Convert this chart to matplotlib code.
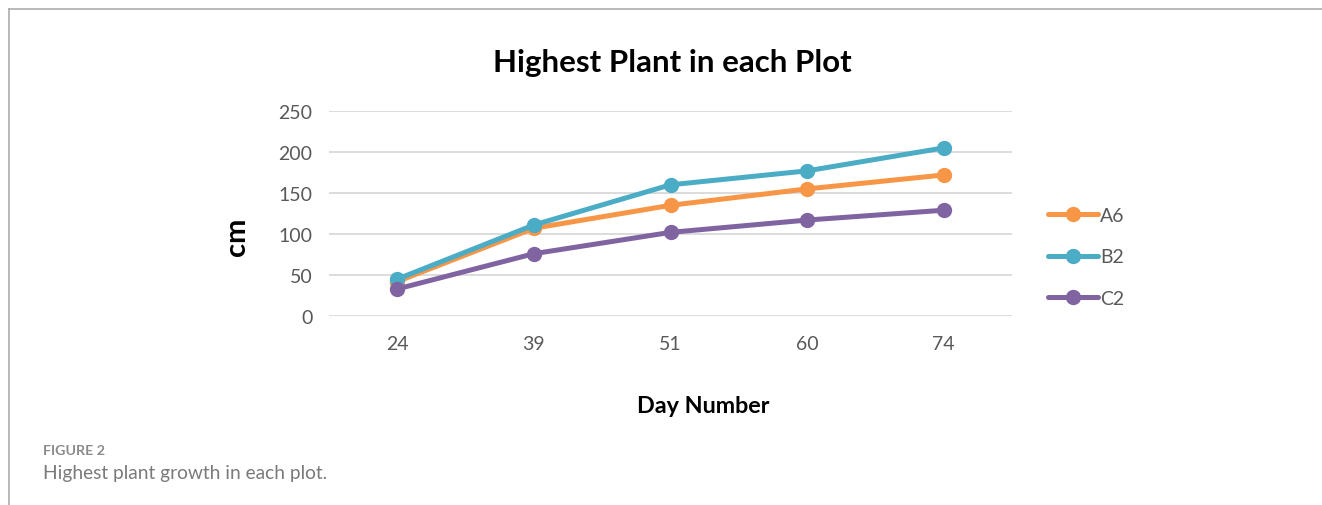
import matplotlib
matplotlib.use("Agg")
import matplotlib.pyplot as plt
from matplotlib.lines import Line2D

plt.rcParams['font.family'] = ['Lato', 'DejaVu Sans']

days = ["24", "39", "51", "60", "74"]
a6 = [42, 107, 135, 155, 172]
b2 = [45, 111, 160, 177, 205]
c2 = [33, 76, 102, 117, 129]
series = [("A6", a6, "#F79646"), ("B2", b2, "#4BACC6"), ("C2", c2, "#8064A2")]
y_ticks = [0, 50, 100, 150, 200, 250]

W, H = 1322, 506
fig = plt.figure(figsize=(W / 100, H / 100), dpi=100)

# outer frame: top and left rules
frame_color = "#ABABAB"
fig.add_artist(Line2D([9 / W, 1.0], [1 - 10 / H, 1 - 10 / H], color=frame_color, lw=1.2))
fig.add_artist(Line2D([9 / W, 9 / W], [0, 1 - 10 / H], color=frame_color, lw=1.2))

ax = fig.add_axes([329 / W, 1 - 317 / H, (1012 - 329) / W, (317 - 112) / H])
x = list(range(len(days)))
for name, vals, col in series:
    ax.plot(x, vals, color=col, lw=3.6, marker="o", markersize=10, label=name,
            solid_capstyle="round", zorder=3)

ax.set_xlim(-0.5, len(days) - 0.5)
ax.set_ylim(0, 250)
ax.set_yticks(y_ticks)
ax.set_xticks(x)
ax.set_xticklabels(days)
ax.grid(axis="y", color="#D9D9D9", lw=1.3)
ax.set_axisbelow(True)
for s in ax.spines.values():
    s.set_visible(False)
ax.tick_params(length=0, labelsize=14, labelcolor="#595959", pad=12)
ax.tick_params(axis="x", pad=14)

fig.text(672 / W, 1 - 63 / H, "Highest Plant in each Plot", ha="center", va="center",
         fontsize=22.5, fontweight="bold", color="black")
fig.text(237 / W, 1 - 237 / H, "cm", ha="center", va="center", rotation=90,
         fontsize=21, fontweight="bold", color="black")
fig.text(703 / W, 1 - 407 / H, "Day Number", ha="center", va="center",
         fontsize=16.8, fontweight="bold", color="black")

leg = ax.legend(loc="center left", bbox_to_anchor=(1030 / W, 1 - 258 / H),
                bbox_transform=fig.transFigure, frameon=False, fontsize=14,
                handlelength=2.6, handletextpad=0.1, labelspacing=1.25)
for t in leg.get_texts():
    t.set_color("#595959")

fig.text(43 / W, 1 - 451 / H, "FIGURE 2", ha="left", va="center",
         fontsize=10.3, fontweight="bold", color="#8A8A8A")
fig.text(43 / W, 1 - 474 / H, "Highest plant growth in each plot.", ha="left", va="center",
         fontsize=13.8, color="#7A7A7A")

fig.savefig("out.png", dpi=100)
